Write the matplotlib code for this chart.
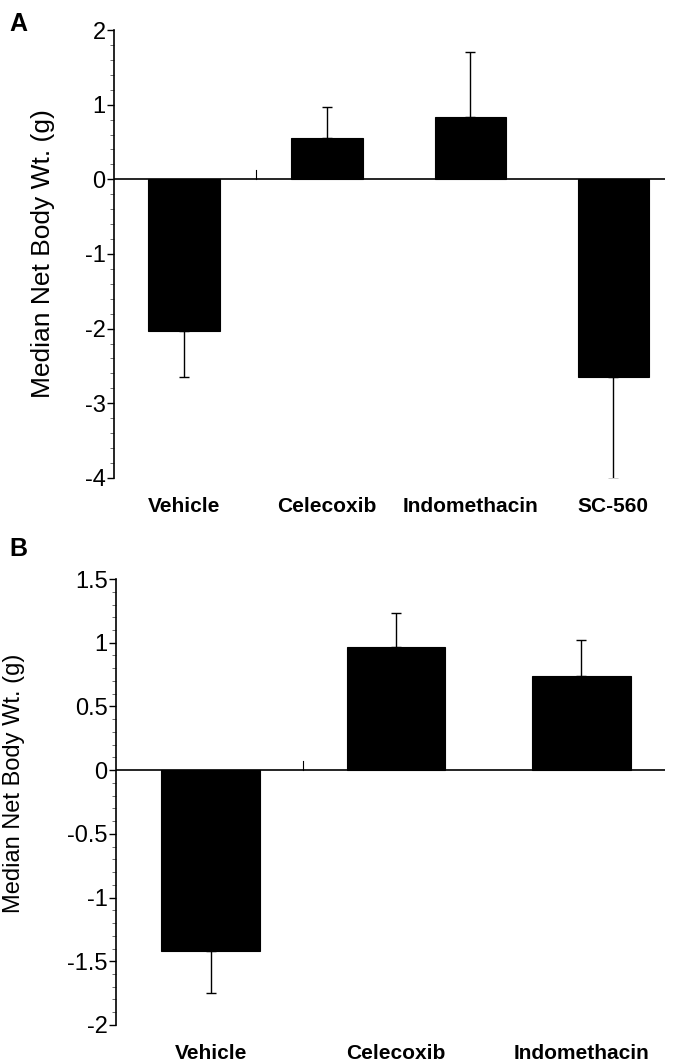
import matplotlib
matplotlib.use("Agg")
import matplotlib.pyplot as plt
from matplotlib.ticker import MultipleLocator
import numpy as np

plt.rcParams['font.family'] = ['Liberation Sans', 'DejaVu Sans']

# Panel A data
cats_a = ["Vehicle", "Celecoxib", "Indomethacin", "SC-560"]
vals_a = [-2.03, 0.55, 0.83, -2.65]
errs_a = [0.62, 0.42, 0.87, 1.37]

# Panel B data
cats_b = ["Vehicle", "Celecoxib", "Indomethacin"]
vals_b = [-1.42, 0.97, 0.74]
errs_b = [0.33, 0.26, 0.28]

ylabel = "Median Net Body Wt. (g)"

fig = plt.figure(figsize=(6.73, 10.64), dpi=100)

def panel(rect, cats, vals, errs, ylim, minor, xlim, width, letter, letter_y,
          yticks, yticklabels, label_xy, label_size):
    ax = fig.add_axes(rect)
    x = np.arange(len(cats))
    ax.bar(x, vals, width=width, color='black', edgecolor='black', linewidth=0.8, zorder=2)
    for xi, v, e in zip(x, vals, errs):
        yerr = [[0], [e]] if v >= 0 else [[e], [0]]
        ax.errorbar([xi], [v], yerr=yerr, fmt='none', ecolor='black', elinewidth=1.0,
                    capsize=3.6, capthick=1.0, zorder=1)
    ax.axhline(0, color='black', linewidth=1.2, zorder=3)
    ax.set_xlim(*xlim)
    ax.set_ylim(*ylim)
    for s in ['top', 'right', 'bottom']:
        ax.spines[s].set_visible(False)
    ax.spines['left'].set_linewidth(1.2)
    ax.set_yticks(yticks)
    ax.set_yticklabels(yticklabels, fontsize=17)
    ax.yaxis.set_minor_locator(MultipleLocator(minor))
    ax.tick_params(axis='y', which='major', length=5, width=1, direction='out', pad=1)
    ax.tick_params(axis='y', which='minor', length=3, width=0.6, direction='out', color='#555555')
    ax.set_xticks(x)
    ax.set_xticklabels(cats, fontsize=15, fontweight='bold')
    ax.tick_params(axis='x', which='major', length=0, pad=14)
    # small separator tick on the zero line
    ax.plot([0.5, 0.5], [0, (ylim[1] - ylim[0]) * 0.02], color='black', linewidth=0.8, zorder=3)
    ax.set_ylabel(ylabel, fontsize=label_size)
    ax.yaxis.set_label_coords(*label_xy)
    fig.text(0.014, letter_y, letter, fontsize=18, fontweight='bold', va='center', ha='left')
    return ax

axA = panel([0.1694, 0.5508, 0.8186, 0.4210], cats_a, vals_a, errs_a,
            (-4, 2), 0.2, (-0.49, 3.36), 0.5, "A", 0.977,
            [-4, -3, -2, -1, 0, 1, 2], ["-4", "-3", "-2", "-1", "0", "1", "2"],
            (-0.107, 0.5), 19)
axB = panel([0.1724, 0.0367, 0.8156, 0.4191], cats_b, vals_b, errs_b,
            (-2, 1.5), 0.1, (-0.51, 2.45), 0.53, "B", 0.484,
            [-2, -1.5, -1, -0.5, 0, 0.5, 1, 1.5], ["-2", "-1.5", "-1", "-0.5", "0", "0.5", "1", "1.5"],
            (-0.166, 0.543), 17)

fig.savefig("out.png", dpi=100)
